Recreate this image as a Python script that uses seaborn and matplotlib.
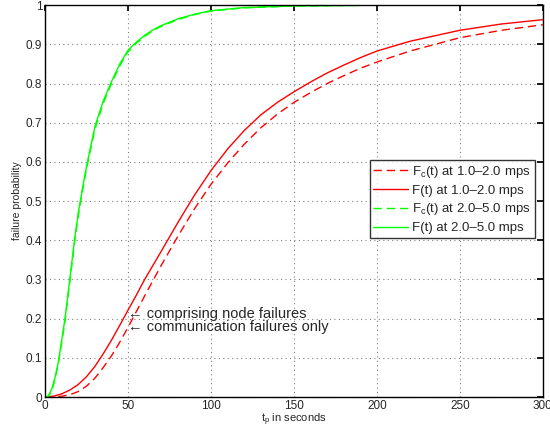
import matplotlib
matplotlib.use("Agg")
import matplotlib.pyplot as plt
import seaborn as sns

# --- data ---
t_fast = [0, 2, 4, 6, 8, 10, 12, 14, 16, 18, 20, 22, 25, 30, 35, 40, 45, 50,
          55, 60, 65, 70, 80, 90, 100, 120, 150, 200, 250, 300]
f_fast = [0, 0.003, 0.02, 0.05, 0.09, 0.145, 0.2, 0.27, 0.34, 0.41, 0.47, 0.52,
          0.59, 0.69, 0.755, 0.805, 0.85, 0.885, 0.906, 0.923, 0.937, 0.948,
          0.965, 0.977, 0.986, 0.994, 0.998, 1.0, 1.0, 1.0]
fc_fast = [0, 0.0, 0.015, 0.045, 0.085, 0.138, 0.193, 0.262, 0.332, 0.402,
           0.462, 0.513, 0.583, 0.683, 0.749, 0.8, 0.845, 0.881, 0.903, 0.92,
           0.935, 0.946, 0.963, 0.976, 0.985, 0.993, 0.998, 1.0, 1.0, 1.0]

t_slow = [0, 5, 10, 15, 20, 25, 30, 35, 40, 45, 50, 55, 60, 70, 80, 90, 100,
          110, 120, 130, 140, 150, 160, 170, 180, 190, 200, 220, 250, 275, 300]
f_slow = [0, 0.002, 0.008, 0.018, 0.032, 0.052, 0.078, 0.11, 0.145, 0.183,
          0.222, 0.26, 0.3, 0.372, 0.445, 0.515, 0.578, 0.633, 0.68, 0.72,
          0.752, 0.779, 0.804, 0.827, 0.847, 0.866, 0.883, 0.908, 0.936,
          0.952, 0.963]
fc_slow = [0, 0.0, 0.002, 0.006, 0.014, 0.028, 0.048, 0.075, 0.105, 0.14,
           0.178, 0.218, 0.258, 0.336, 0.41, 0.48, 0.543, 0.597, 0.645, 0.687,
           0.722, 0.752, 0.777, 0.8, 0.82, 0.839, 0.855, 0.883, 0.917, 0.936,
           0.95]

labels = ["F$_c$(t) at 1.0\u20132.0 mps", "F(t) at 1.0\u20132.0 mps",
          "F$_c$(t) at 2.0\u20135.0 mps", "F(t) at 2.0\u20135.0 mps"]

sns.set_theme(style="white")
plt.rcParams["font.family"] = ["Liberation Sans", "DejaVu Sans"]
plt.rcParams["mathtext.fontset"] = "custom"
plt.rcParams["mathtext.rm"] = "Liberation Sans"
plt.rcParams["mathtext.it"] = "Liberation Sans"

fig = plt.figure(figsize=(5.5, 4.32), dpi=100)
ax = fig.add_axes([0.082, 0.081, 0.905, 0.907])

series = [
    (t_slow, fc_slow, "#ff0000", True),
    (t_slow, f_slow, "#ff0000", False),
    (t_fast, fc_fast, "#00ff00", True),
    (t_fast, f_fast, "#00ff00", False),
]
for (x, y, col, dashed), lab in zip(series, labels):
    sns.lineplot(x=x, y=y, ax=ax, color=col, linewidth=1.0, label=lab)
    if dashed:
        ax.lines[-1].set_dashes((6, 3.5))

ax.set_xlim(0, 300)
ax.set_ylim(0, 1)
ax.set_xticks(range(0, 301, 50))
ax.set_yticks([i / 10 for i in range(11)])
ax.set_yticklabels(["0"] + [f"{i/10:g}" for i in range(1, 10)] + ["1"])
ax.grid(True, linestyle=(0, (1, 3)), color="#808080", linewidth=0.8)
ax.tick_params(direction="in", length=4, labelsize=8.5, top=True, right=True,
               color="black", pad=2)
for s in ax.spines.values():
    s.set_color("black")
    s.set_linewidth(1.0)

ax.set_xlabel("t$_p$ in seconds", fontsize=8, labelpad=0)
ax.set_ylabel("failure probability", fontsize=7.5, labelpad=3)

ax.text(50, 0.213, "\u2190 comprising node failures", fontsize=10.5,
        va="center", ha="left")
ax.text(50, 0.178, "\u2190 communication failures only", fontsize=10.5,
        va="center", ha="left")

leg = ax.legend(loc="upper right", bbox_to_anchor=(0.984, 0.605), fontsize=9.5,
                frameon=True, fancybox=False, edgecolor="black",
                handlelength=2.65, borderpad=0.3, labelspacing=0.35,
                handletextpad=0.3, borderaxespad=0)
leg.get_frame().set_linewidth(1.0)

fig.savefig("out.png", dpi=100)
